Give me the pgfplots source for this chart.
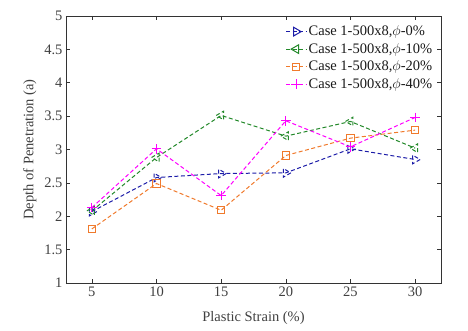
\documentclass[border=0pt]{standalone}
\usepackage{pgfplots}
\pgfplotsset{compat=1.18}
\usepackage{fontspec}
\setmainfont{Liberation Serif}
\definecolor{cblue}{HTML}{1C1CA8}
\definecolor{cgreen}{HTML}{23892A}
\definecolor{corange}{HTML}{F07A2C}
\definecolor{cmag}{HTML}{FF00FF}
\begin{document}
\begin{tikzpicture}
\path[use as bounding box] (-66pt,-48pt) rectangle (402pt,283pt);
\begin{axis}[
  scale only axis, width=375pt, height=267pt,
  xmin=3, xmax=32, ymin=1, ymax=5,
  xtick={5,10,15,20,25,30},
  ytick={1,1.5,2,2.5,3,3.5,4,4.5,5},
  tick align=inside, tick pos=both,
  major tick length=4pt,
  axis line style={line width=0.8pt, black!80},
  every tick/.style={black!80, line width=0.6pt},
  tick label style={font=\fontsize{14.5}{15}\selectfont, text=black!75},
  /pgf/number format/assume math mode=true,
  xlabel={Plastic Strain (\%)}, ylabel={Depth of Penetration (a)},
  label style={font=\fontsize{14.5}{15}\selectfont, text=black!75},
  xlabel style={yshift=-8pt},
  ylabel style={yshift=1pt},
  legend style={draw=none, fill=none, at={(0.985,0.975)}, anchor=north east,
    font=\fontsize{14.5}{15}\selectfont, text=black!90, row sep=2pt, inner sep=1pt},
  legend cell align=left,
  legend image code/.code={
    \draw[#1] (0pt,0pt) -- (20pt,0pt);
    \draw[#1, solid] plot coordinates {(10pt,0pt)};
  },
  every axis plot/.append style={dash pattern=on 4pt off 2.5pt, line width=1pt, mark size=5pt, mark options={solid, line width=1pt}},
]
\addplot[cblue, mark=triangle, mark options={rotate=-90}] coordinates {
  (5,2.07) (10,2.58) (15,2.64) (20,2.65) (25,3.01) (30,2.85)};
\addlegendentry{Case 1-500x8,$\phi$-0\%}
\addplot[cgreen, mark=triangle, mark options={rotate=90}] coordinates {
  (5,2.08) (10,2.88) (15,3.51) (20,3.20) (25,3.42) (30,3.02)};
\addlegendentry{Case 1-500x8,$\phi$-10\%}
\addplot[corange, mark=square, mark size=3.6pt] coordinates {
  (5,1.81) (10,2.49) (15,2.09) (20,2.91) (25,3.17) (30,3.29)};
\addlegendentry{Case 1-500x8,$\phi$-20\%}
\addplot[cmag, mark=+, mark size=4.8pt] coordinates {
  (5,2.13) (10,3.01) (15,2.31) (20,3.43) (25,3.04) (30,3.48)};
\addlegendentry{Case 1-500x8,$\phi$-40\%}
\end{axis}
\end{tikzpicture}
\end{document}
